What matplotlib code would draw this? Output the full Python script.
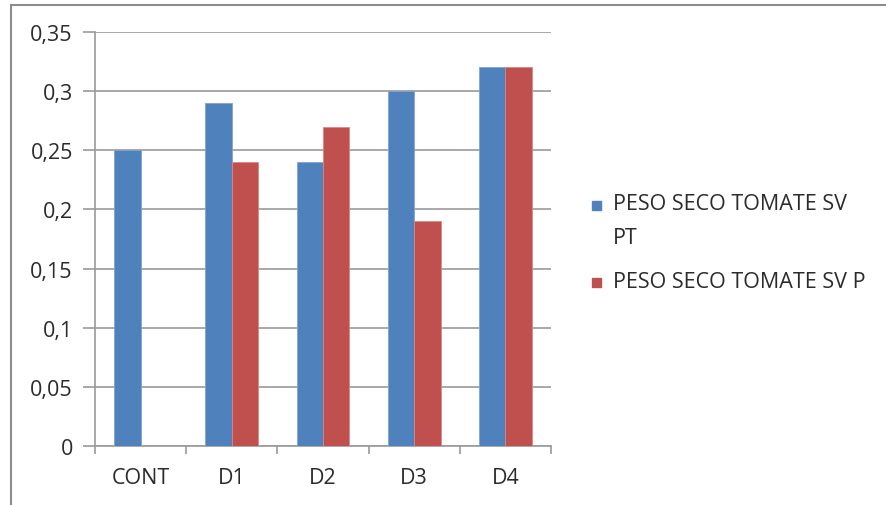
import matplotlib.pyplot as plt
import numpy as np
from matplotlib.patches import Rectangle
from matplotlib.ticker import FuncFormatter, MultipleLocator

categories = ['CONT', 'D1', 'D2', 'D3', 'D4']
peso_pt = [0.25, 0.29, 0.24, 0.30, 0.32]
peso_p = [0, 0.24, 0.27, 0.19, 0.32]
labels = ['PESO SECO TOMATE SV\nPT', 'PESO SECO TOMATE SV P']

blue = '#4F81BD'
red = '#C0504D'
grid_col = '#9A9A9A'
txt_col = '#2B2B2B'
fsize = 15.5

plt.rcParams['font.family'] = ['Open Sans', 'DejaVu Sans']

fig = plt.figure(figsize=(8.87, 5.06), dpi=100)
ax = fig.add_axes([95 / 887, 59 / 506, 456 / 887, 414 / 506])

x = np.arange(len(categories)) + 0.5
w = 0.29
ax.bar(x - w / 2, peso_pt, w, color=blue, edgecolor='#7FA3D0', linewidth=0.6, zorder=3)
ax.bar(x + w / 2, peso_p, w, color=red, edgecolor='#D88886', linewidth=0.6, zorder=3)

ax.set_xlim(0, len(categories))
ax.set_ylim(0, 0.35)
ax.yaxis.set_major_locator(MultipleLocator(0.05))
ax.yaxis.set_major_formatter(FuncFormatter(lambda v, p: ('%g' % round(v, 2)).replace('.', ',')))
ax.grid(axis='y', color=grid_col, linewidth=1.2, zorder=0)

ax.set_xticks(np.arange(len(categories) + 1))
ax.set_xticklabels([])
ax.set_xticks(x, minor=True)
ax.set_xticklabels(categories, minor=True)
ax.tick_params(axis='x', which='major', length=6, width=1.2, color=grid_col, direction='out')
ax.tick_params(axis='x', which='minor', length=0, pad=15, labelsize=fsize, labelcolor=txt_col)
ax.tick_params(axis='y', length=9, width=1.2, color=grid_col, pad=7, labelsize=fsize, labelcolor=txt_col)

for side in ['top', 'right']:
    ax.spines[side].set_visible(False)
for side in ['left', 'bottom']:
    ax.spines[side].set_color(grid_col)
    ax.spines[side].set_linewidth(1.2)

# legend drawn by hand on the right
for lab, col, ypix in zip(labels, [blue, red], [206, 283]):
    fig.add_artist(Rectangle((592 / 887, 1 - (ypix + 5) / 506), 9 / 887, 9 / 506,
                             transform=fig.transFigure, color=col))
    fig.text(613 / 887, 1 - (ypix - 11.5) / 506, lab, ha='left', va='top', fontsize=fsize,
             color=txt_col, linespacing=1.75)

# outer chart frame
fig.add_artist(Rectangle((11 / 887, -0.1), 1.1, 1.1 - 6 / 506, transform=fig.transFigure,
                         fill=False, edgecolor='#8C8C8C', linewidth=1.5))

fig.savefig('out.png', dpi=100)
